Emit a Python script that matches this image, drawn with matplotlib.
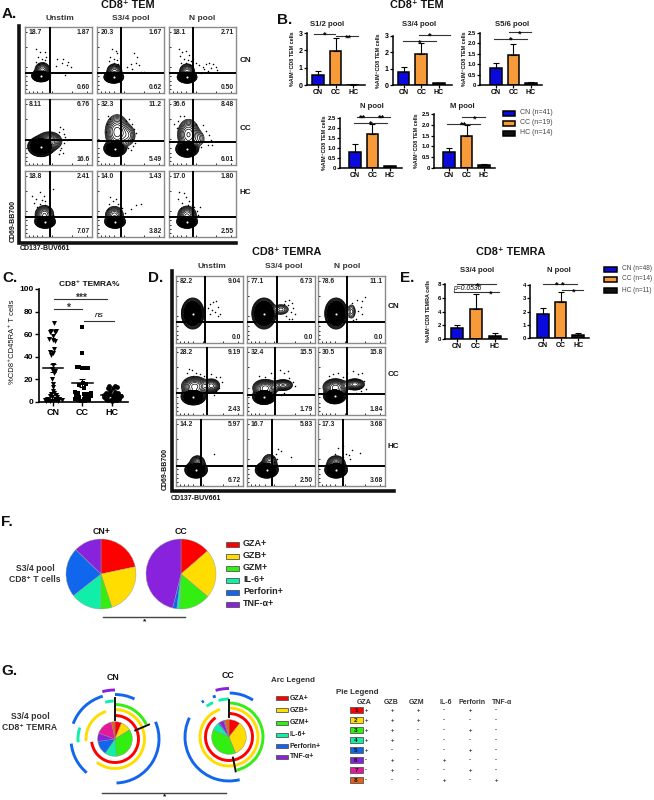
import numpy as np
import matplotlib
matplotlib.use('Agg')
import matplotlib.pyplot as plt
from matplotlib.patches import Arc, Rectangle

plt.rcParams['font.family'] = ['Liberation Sans', 'DejaVu Sans']
plt.rcParams['font.weight'] = 'bold'

W, H = 654, 800
BLUE, ORANGE = '#0A0ADC', '#F79A3A'
RED, YELLOW, GREEN, TEAL, PBLUE, PURPLE = '#FF0000', '#FFDD00', '#33EE11', '#11EEAA', '#1166EE', '#8822DD'
MAGENTA, BROWN = '#E5189A', '#E0601A'

# ---- panel A facs numbers, rows CN CC HC, columns Unstim S3/4 N
A_NUMS = [[('18.7', '1.87', '0.60'), ('20.3', '1.67', '0.62'), ('18.1', '2.71', '0.50')],
          [('8.11', '6.76', '16.6'), ('32.3', '11.2', '5.49'), ('36.6', '8.48', '6.01')],
          [('18.8', '2.41', '7.07'), ('14.0', '1.43', '3.82'), ('17.0', '1.80', '2.55')]]
A_GATES = [[(37, 30), (36, 30), (36, 30)],
           [(37, 38), (36, 36), (36, 35)],
           [(37, 30), (36, 30), (36, 30)]]
# blobs: x, y, sx, sy, height
A_BLOBS = [[[(24, 26, 4.6, 3, 1), (26, 35, 5, 5, .1)],
            [(25, 24, 4.8, 3, 1), (26, 33, 5, 5, .1)],
            [(27, 24, 4.8, 3, 1), (27, 33, 5, 5, .1)]],
           [[(24, 28, 6.5, 5, 1), (36, 36, 8, 6, .14)],
            [(27, 25, 5.5, 4, 1), (30, 50, 7.5, 11, .14), (46, 45, 6, 8, .04)],
            [(27, 24, 5.5, 4, 1), (29, 46, 7, 10, .12), (44, 40, 6, 7, .02)]],
           [[(30, 23, 5, 3.2, 1), (29, 34, 6, 6, .12)],
            [(27, 23, 5, 3.2, 1), (26, 33, 6, 6, .1)],
            [(27, 23, 5, 3.2, 1), (27, 33, 6, 6, .12)]]]
A_DOTS = [[[(17, 67), (22, 62), (30, 62), (20, 55), (25, 52), (30, 50), (16, 47), (27, 45), (21, 44), (32, 54),
            (48, 51), (56, 52), (64, 47), (55, 45), (62, 42), (47, 41), (68, 40), (60, 28)],
           [(22, 67), (28, 64), (30, 60), (20, 55), (25, 52), (30, 50), (18, 48), (26, 46), (32, 44), (22, 42),
            (28, 41), (34, 53), (55, 60), (60, 54), (58, 46), (50, 44), (63, 42), (52, 36), (66, 32), (45, 40), (70, 32)],
           [(15, 66), (20, 62), (25, 64), (30, 58), (17, 56), (22, 52), (28, 50), (33, 48), (18, 46), (25, 45), (31, 42),
            (36, 52), (40, 46), (45, 42), (50, 40), (55, 44), (60, 46), (65, 44), (70, 40), (62, 38), (52, 36), (48, 30),
            (72, 35), (58, 33)]],
          [[(52, 57), (57, 54), (50, 50), (58, 47), (60, 42), (63, 38), (58, 33), (54, 26), (52, 22), (56, 18), (50, 17)],
           [(16, 74), (20, 70), (15, 62), (13, 50), (48, 70), (52, 62), (55, 55), (52, 40), (56, 34), (46, 26),
            (58, 48), (44, 66), (53, 29), (50, 22)],
           [(8, 62), (14, 66), (12, 56), (40, 62), (50, 60), (55, 52), (60, 46), (62, 38), (52, 36), (58, 30),
            (16, 74), (22, 74), (64, 30), (48, 28)]],
          [[(10, 62), (16, 58), (22, 68), (28, 62), (42, 72), (14, 52), (22, 50), (30, 54), (18, 46), (26, 56),
            (34, 46), (30, 48), (38, 40), (42, 34)],
           [(20, 60), (24, 54), (18, 50), (28, 58), (32, 50), (16, 42), (38, 44), (50, 42), (58, 48), (65, 50), (42, 36)],
           [(15, 68), (22, 66), (26, 60), (14, 58), (20, 52), (30, 54), (34, 48), (18, 44), (38, 46), (42, 40), (44, 34),
            (36, 38), (28, 48), (46, 46)]]]

# ---- panel D facs
D_NUMS = [[('82.2', '9.04', '0.0'), ('77.1', '6.73', '0.0'), ('78.6', '11.1', '0.0')],
          [('28.2', '9.19', '2.43'), ('32.4', '15.5', '1.79'), ('30.5', '15.8', '1.84')],
          [('14.2', '5.97', '6.72'), ('16.7', '5.83', '2.50'), ('17.3', '3.68', '3.68')]]
D_GATES = [[(44, 31), (44, 31), (43, 31)],
           [(47, 32), (41, 30), (43, 31)],
           [(37, 30), (37, 30), (37, 30)]]
D_BLOBS = [[[(25, 44, 5.5, 7.5, 1)],
            [(25, 44, 5.8, 7.5, 1), (50, 50, 6, 4, .04)],
            [(27, 44, 5.5, 7.5, 1), (50, 47, 3.5, 6, .03)]],
           [[(26, 27, 6, 4, 1), (28, 42, 8, 6, .18), (53, 43, 5.5, 4.5, .1)],
            [(25, 27, 5.5, 3.8, 1), (27, 40, 7.5, 5, .18), (53, 44, 6, 3.5, .12)],
            [(25, 28, 5.5, 3.8, 1), (26, 41, 7.5, 5, .18), (55, 45, 6, 3.5, .14)]],
           [[(30, 24, 5.5, 4, 1), (32, 34, 5, 5, .1)],
            [(29, 24, 5.5, 4, 1), (33, 34, 5, 6, .09)],
            [(27, 24, 5.5, 4, 1), (27, 34, 6, 5, .1)]]]
D_DOTS = [[[(50, 58), (55, 61), (60, 62), (63, 54), (53, 50), (58, 47), (65, 44), (50, 44), (62, 40), (48, 52)],
           [(56, 62), (62, 64), (66, 60), (60, 56), (68, 52), (64, 46), (70, 44), (58, 40), (66, 36), (62, 36), (54, 58)],
           [(50, 60), (58, 64), (65, 62), (70, 68), (64, 54), (60, 48), (66, 44), (56, 36), (52, 34)]],
          [[(20, 68), (24, 66), (16, 62), (30, 62), (36, 60), (42, 58), (52, 60), (60, 56), (66, 56), (14, 52), (68, 48), (64, 40),
            (60, 36), (56, 30), (26, 58)],
           [(18, 58), (26, 56), (36, 62), (40, 54), (48, 66), (54, 62), (60, 64), (62, 54), (68, 48), (70, 42), (55, 32), (50, 30)],
           [(16, 58), (22, 60), (30, 62), (38, 56), (44, 62), (52, 64), (60, 60), (66, 62), (68, 50), (72, 38), (64, 36), (56, 32)]],
          [[(30, 44), (34, 42), (38, 36), (56, 48)],
           [(38, 44), (42, 48), (46, 55), (44, 40), (50, 52), (64, 44), (40, 36)],
           [(30, 56), (38, 60), (42, 48), (46, 46), (48, 40), (38, 44), (26, 48), (62, 50), (50, 54)]]]

# ---- bar charts, values and tops of the error bars
GROUPS = ['CN', 'CC', 'HC']
S12_VALS, S12_TOPS = [.6, 1.95, .02], [.8, 2.72, .03]
S34_VALS, S34_TOPS = [.8, 1.9, .1], [1.08, 2.6, .15]
S56_VALS, S56_TOPS = [.8, 1.42, .08], [1.08, 1.98, .13]
NP_VALS, NP_TOPS = [.82, 1.72, .08], [1.18, 2.2, .12]
MP_VALS, MP_TOPS = [.72, 1.5, .12], [.92, 1.97, .2]
E34_VALS, E34_TOPS = [1.6, 4.3, .5], [2.0, 6.6, .9]
EN_VALS, EN_TOPS = [1.8, 2.7, .2], [2.3, 3.5, .37]
# sig lines x0, x1, y, text, text x
S12_SIG = [(-.25, .94, 2.96, '*', .35), (1.04, 2.3, 2.8, '**', 1.7)]
S34_SIG = [(-.06, 1.85, 2.67, '*', .9), (.89, 2.64, 3.06, '*', 1.45)]
S56_SIG = [(-.11, 1.8, 2.23, '*', .85), (.75, 2.0, 2.53, '*', 1.35)]
NP_SIG = [(-.06, 1.83, 2.27, '*', .9), (.13, 1.07, 2.55, '**', .45), (1.13, 2.0, 2.55, '**', 1.5)]
MP_SIG = [(-.1, 1.8, 2.05, '**', .8), (.77, 2.04, 2.36, '*', 1.45)]
E34_SIG = [(0, 2.05, 8.0, '*', 1.1), (-.17, 2.2, 6.8, '*', 1.75)]
EN_SIG = [(0, 1.93, 4.07, '* *', .95), (1.07, 2.27, 3.62, '*', 1.75)]

# ---- panel C
CN_VALS = [70, 63, 63, 62, 62, 58, 56, 55, 54, 47, 44, 43, 42, 33, 29, 27, 26, 20, 16, 13, 10, 8, 7, 6, 5, 4, 4, 3, 3, 3, 2, 2, 2, 2, 1, 1, 1, 1]
CN_X = [.03, -.05, .1, -.08, .07, .02, -.12, 0, .08, .05, -.1, 0, -.05, 0, -.04, .06, .03, -.03, 0, 0, .02, .05, -.05, .1, -.1, .15, -.02, -.2, .06, .22, -.15, .1, -.28, .3, -.08, .18, .02, -.22]
CC_VALS = [66, 43, 31, 31, 30, 30, 30, 30, 17, 16, 15, 12, 9, 8, 8, 7, 7, 6, 5, 5, 4, 4, 3, 3, 2, 2, 1, 1]
CC_X = [0, 0, -.18, -.1, -.02, .06, .14, .2, .02, .12, -.1, .05, -.25, .3, -.15, .2, .05, -.22, .28, .1, -.1, .16, -.25, .04, .22, -.15, .1, -.04]
HC_VALS = [14, 14, 13, 12, 12, 10, 9, 8, 8, 7, 7, 6, 6, 5, 5, 5, 4, 4, 3, 3, 3, 2, 2, 1]
HC_X = [-.08, .1, .16, -.12, .05, -.05, .1, -.18, .2, -.1, .12, -.25, .03, -.15, .18, .3, -.28, .08, -.2, 0, .24, -.12, .14, .02]
C_MEANS = [30, 17, 6]
C_SEMS = [3.5, 3.5, 1]

# ---- panel F pies
F_NAMES = ['GZA+', 'GZB+', 'GZM+', 'IL-6+', 'Perforin+', 'TNF-α+']
F_COLORS = [RED, YELLOW, GREEN, TEAL, PBLUE, PURPLE]
F_CN = [21.7, 23.3, 5.3, 14.2, 22.8, 12.8]
F_CC = [13.6, 22.5, 14.4, 1.4, 1.9, 46.1]

# ---- panel G pies + arcs (degrees clockwise from 12 o'clock, radius in px)
G_COLORS = [RED, YELLOW, GREEN, TEAL, PBLUE, PURPLE, MAGENTA, BROWN]
G_CN = [22, 36, 117, 40, 47, 28, 58, 12]
G_CC = [38, 120, 137, 27, 4, 16, 4, 14]
G_CN_ARCS = [(RED, 23.5, 0, 263), (YELLOW, 29.5, 0, 218), (YELLOW, 29, 266, 342), (GREEN, 34.5, 0, 65),
             (TEAL, 38, 345, 358), (TEAL, 37, 265, 288), (PBLUE, 44.5, 0, 26), (PBLUE, 44.5, 290, 344),
             (PBLUE, 44, 220, 264), (PBLUE, 44, 67, 178), (PURPLE, 49, 345, 360)]
G_CC_ARCS = [(RED, 23.5, 0, 325), (YELLOW, 29, 0, 342), (GREEN, 34, 0, 167),
             (TEAL, 38, 324, 335), (TEAL, 38, 344, 360), (PBLUE, 44, 1, 33), (PBLUE, 44, 166, 296),
             (PBLUE, 44, 322, 325), (PBLUE, 43, 338, 342), (PURPLE, 48.5, 344, 360)]
# black spokes: angle, r0, r1
G_CN_SPOKES = [(0, 19, 41), (67, 22, 37)]
G_CC_SPOKES = [(0, 20, 37), (169, 21, 35)]

PIE_ROWS = ['1', '2', '3', '4', '5', '6', '7', '8']
PIE_HEAD = ['GZA', 'GZB', 'GZM', 'IL-6', 'Perforin', 'TNF-α']
PIE_SIGNS = ['+++-+-', '+++---', '++--+-', '++----', '+---+-', '-+-+--', '-+--+-', '---+-+']

fig = plt.figure(figsize=(W / 100, H / 100), dpi=100, facecolor='white')


def px_axes(left, top, right, bottom, **kw):
    return fig.add_axes([left / W, 1 - bottom / H, (right - left) / W, (bottom - top) / H], **kw)


# overlay in pixel coords for the text and the layout lines
ov = fig.add_axes([0, 0, 1, 1], zorder=50)
ov.set_xlim(0, W)
ov.set_ylim(H, 0)
ov.axis('off')
ov.patch.set_alpha(0)


def txt(x, y, s, size=7, ha='center', va='center', **kw):
    kw.setdefault('color', '#111111')
    ov.text(x, y, s, fontsize=size, ha=ha, va=va, **kw)


grid_x = np.linspace(0, 100, 300)
grid_y = np.linspace(0, 100, 300)
gx, gy = np.meshgrid(grid_x, grid_y)
LEVELS = np.geomspace(.008, .9, 17)
FACS_TICKS = [6, 12, 18, 26, 40, 70, 92]


def facs(box, nums, gate, blobs, dots):
    ax = px_axes(*box)
    z = np.zeros_like(gx)
    for cx, cy, sx, sy, a in blobs:
        z += a * np.exp(-(gx - cx) ** 2 / (2 * sx ** 2) - (gy - cy) ** 2 / (2 * sy ** 2))
    # the dense core of the main blob is solid black
    main = blobs[0]
    core = np.exp(-(gx - main[0]) ** 2 / (2 * main[2] ** 2) - (gy - main[1]) ** 2 / (2 * main[3] ** 2))
    ax.contourf(gx, gy, core, levels=[.06, 2], colors='black')
    ax.contour(gx, gy, z, levels=LEVELS, colors='black', linewidths=.5)
    ax.plot([main[0]], [main[1]], marker='o', ms=1.5, color='white', mec='none', zorder=4)
    ax.scatter([d[0] for d in dots], [d[1] for d in dots], s=1.2, c='black', linewidths=0)
    ax.axvline(gate[0], color='black', lw=1.4, zorder=5)
    ax.axhline(gate[1], color='black', lw=1.4, zorder=5)
    ax.set_xlim(0, 100)
    ax.set_ylim(0, 100)
    ax.set_xticks(FACS_TICKS)
    ax.set_yticks(FACS_TICKS)
    ax.tick_params(length=1.6, width=.6, labelleft=False, labelbottom=False, pad=0, direction='in')
    for s in ax.spines.values():
        s.set_color('#8a8a8a')
        s.set_linewidth(1)
    ax.text(5, 92, nums[0], fontsize=4.9, va='center', color='#222222', zorder=6)
    ax.text(97, 92, nums[1], fontsize=4.9, ha='right', va='center', color='#222222', zorder=6)
    ax.text(97, 8, nums[2], fontsize=4.9, ha='right', va='center', color='#222222', zorder=6)


A_XS = [(25, 92), (97, 164), (169, 236)]
A_YS = [(27, 93), (99, 165), (171, 237)]
D_XS = [(176, 243), (247, 315), (318, 385)]
D_YS = [(276, 343), (347, 415), (419, 486)]
for r in range(3):
    for c in range(3):
        facs((A_XS[c][0], A_YS[r][0], A_XS[c][1], A_YS[r][1]), A_NUMS[r][c], A_GATES[r][c], A_BLOBS[r][c], A_DOTS[r][c])
        facs((D_XS[c][0], D_YS[r][0], D_XS[c][1], D_YS[r][1]), D_NUMS[r][c], D_GATES[r][c], D_BLOBS[r][c], D_DOTS[r][c])

# big L axes of the facs grids
ov.plot([19, 19, 236], [26, 243, 243], color='#111111', lw=2.6, solid_joinstyle='miter')
ov.plot([172, 172, 394], [271, 491, 491], color='#111111', lw=2.6, solid_joinstyle='miter')

txt(2, 14, 'A.', 11, ha='left')
txt(128, 5, 'CD8⁺ TEM', 7.8)
txt(417, 5, 'CD8⁺ TEM', 7.8)
for x, s in zip([60, 131, 202], ['Unstim', 'S3/4 pool', 'N pool']):
    txt(x, 18, s, 6, color='#333333')
for y, s in zip([61, 128, 193], GROUPS):
    txt(240, y, s, 5.8, ha='left')
txt(13, 221, 'CD69-BB700', 5, rotation=90)
txt(20, 249, 'CD137-BUV661', 5, ha='left')

txt(148, 278, 'D.', 11, ha='left')
txt(287, 252, 'CD8⁺ TEMRA', 7.8)
txt(511, 252, 'CD8⁺ TEMRA', 7.8)
for x, s in zip([212, 284, 347], ['Unstim', 'S3/4 pool', 'N pool']):
    txt(x, 267, s, 6, color='#333333')
for y, s in zip([307, 375, 447], GROUPS):
    txt(388, y, s, 5.8, ha='left')
txt(165, 469, 'CD69-BB700', 5, rotation=90)
txt(171, 498, 'CD137-BUV661', 5, ha='left')


def bars(left, top, right, bottom, xlim, ymax, yticks, ylabs, vals, tops, sig, title, tx, ty, ylabel, ylx, ysize=4.3):
    ax = px_axes(left, top, right, bottom)
    ax.patch.set_alpha(0)
    ax.bar(range(3), vals, width=.66, color=[BLUE, ORANGE, '#111111'], edgecolor='black', linewidth=1.1)
    for i in range(3):
        ax.errorbar(i, vals[i], yerr=[[0], [tops[i] - vals[i]]], color='black', capsize=2, lw=.8, capthick=.8)
    ax.set_xlim(*xlim)
    ax.set_ylim(0, ymax)
    ax.set_xticks(range(3))
    ax.set_xticklabels(GROUPS, fontsize=5)
    ax.set_yticks(yticks)
    ax.set_yticklabels(ylabs, fontsize=ysize)
    ax.tick_params(length=2.2, width=.9, pad=.8)
    ax.spines['top'].set_visible(False)
    ax.spines['right'].set_visible(False)
    ax.spines['left'].set_linewidth(1.1)
    ax.spines['bottom'].set_linewidth(1.1)
    for x0, x1, y, s, sx in sig:
        ax.plot([x0, x1], [y, y], color='#333333', lw=.8, clip_on=False)
        ax.text(sx, y - ymax * .03, s, fontsize=6.5, ha='center', va='center', clip_on=False)
    txt(tx, ty, title, 5.6, color='#222222')
    txt(ylx, (top + bottom) / 2, ylabel, 3.9, rotation=90)
    return ax


TEM_Y = '%AIM⁺CD8 TEM cells'
TEMRA_Y = '%AIM⁺CD8 TEMRA cells'
L3 = ['0', '1', '2', '3']
L25 = ['0', '0.5', '1.0', '1.5', '2.0', '2.5']
T25 = [0, .5, 1, 1.5, 2, 2.5]
bars(307, 33, 365, 85, (-.63, 2.67), 3, [0, 1, 2, 3], L3, S12_VALS, S12_TOPS, S12_SIG, 'S1/2 pool', 327, 24, TEM_Y, 292, 5)
bars(393, 36, 452, 85, (-.6, 2.74), 3, [0, 1, 2, 3], L3, S34_VALS, S34_TOPS, S34_SIG, 'S3/4 pool', 419, 24, TEM_Y, 379, 5)
bars(480, 33, 542, 85, (-.91, 2.63), 2.5, T25, L25, S56_VALS, S56_TOPS, S56_SIG, 'S5/6 pool', 512, 24, TEM_Y, 464)
bars(340, 118, 402, 168, (-.85, 2.69), 2.5, T25, L25, NP_VALS, NP_TOPS, NP_SIG, 'N pool', 372, 107, TEM_Y, 324)
bars(434, 114, 495, 168, (-.86, 2.63), 2.5, T25, L25, MP_VALS, MP_TOPS, MP_SIG, 'M pool', 462, 107, TEM_Y, 416)
ax34 = bars(445, 284, 507, 339, (-.63, 2.63), 8, [0, 2, 4, 6, 8], ['0', '2', '4', '6', '8'], E34_VALS, E34_TOPS, E34_SIG, 'S3/4 pool', 477, 270, TEMRA_Y, 428)
ax34.text(.52, 7.3, 'p=0.0536', fontsize=4.9, style='italic', fontweight='normal', ha='center', va='center', clip_on=False)
bars(530, 285, 589, 338, (-.72, 2.6), 4, [0, 1, 2, 3, 4], ['0', '1', '2', '3', '4'], EN_VALS, EN_TOPS, EN_SIG, 'N pool', 559, 271, '', 520)

txt(277, 20, 'B.', 11, ha='left')
txt(400, 278, 'E.', 11, ha='left')


def bar_key(x0, x1, ys, names, tx, size):
    for y, s, col in zip(ys, names, [BLUE, ORANGE, '#111111']):
        ov.add_patch(Rectangle((x0, y - 2.5), x1 - x0, 5, facecolor=col, edgecolor='black', lw=1.1))
        txt(tx, y, s, size, ha='left', color='#444444', fontweight='normal')


bar_key(503, 515, [113, 123, 133], ['CN (n=41)', 'CC (n=19)', 'HC (n=14)'], 520, 5)
bar_key(604, 617, [269, 279, 290], ['CN (n=48)', 'CC (n=14)', 'HC (n=11)'], 622, 4.7)

# ---- panel C
axc = px_axes(39, 289, 128, 402)
axc.patch.set_alpha(0)
axc.scatter(CN_X, CN_VALS, marker='v', s=13, c='black', linewidths=0, clip_on=False)
axc.scatter(1 + np.array(CC_X), CC_VALS, marker='s', s=11, c='black', linewidths=0, clip_on=False)
axc.scatter(2 + np.array(HC_X), HC_VALS, marker='o', s=12, c='black', linewidths=0, clip_on=False)
for i in range(3):
    axc.plot([i - .35, i + .35], [C_MEANS[i]] * 2, color='black', lw=1.1)
    axc.errorbar(i, C_MEANS[i], yerr=C_SEMS[i], color='black', capsize=2.5, lw=.8, capthick=.8)
axc.set_xlim(-.47, 2.55)
axc.set_ylim(0, 100)
axc.set_xticks(range(3))
axc.set_xticklabels(GROUPS, fontsize=6.5)
axc.set_yticks([0, 20, 40, 60, 80, 100])
axc.set_yticklabels(['0', '20', '40', '60', '80', '100'], fontsize=6)
axc.tick_params(length=3, width=1, pad=1)
axc.spines['top'].set_visible(False)
axc.spines['right'].set_visible(False)
axc.spines['left'].set_linewidth(1.2)
axc.spines['bottom'].set_linewidth(1.2)
for x0, x1, y, s in [(.03, 1.85, 91.4, '***'), (.03, 1, 82.6, '*')]:
    axc.plot([x0, x1], [y, y], color='#333333', lw=.8, clip_on=False)
    axc.text((x0 + x1) / 2, y + 1, s, fontsize=7.5, ha='center', va='center', color='#333333')
axc.plot([1.06, 2.06], [71.7, 71.7], color='#333333', lw=.8)
axc.text(1.56, 76.5, 'ns', fontsize=6, style='italic', fontweight='normal', ha='center', va='center')
txt(2, 278, 'C.', 11, ha='left')
txt(89, 284, 'CD8⁺ TEMRA%', 6)
txt(13, 342, '%CD8⁺CD45RA⁺ T cells', 5.5, rotation=90, fontweight='normal')

# ---- panel F
for cx, vals in [(101, F_CN), (181, F_CC)]:
    axp = px_axes(cx - 37, 574 - 37, cx + 37, 574 + 37)
    axp.pie(vals, colors=F_COLORS, startangle=90, counterclock=False, radius=35 / 37,
            wedgeprops={'edgecolor': '#999999', 'linewidth': .3})
    axp.set_xlim(-1, 1)
    axp.set_ylim(-1, 1)
txt(1, 522, 'F.', 11, ha='left')
txt(102, 531, 'CN+', 6.3)
txt(181, 531, 'CC', 6.3)
txt(35, 574, 'S3/4 pool\nCD8⁺ T cells', 6.2, linespacing=1.25, color='#333333')
ov.plot([103, 185], [617, 617], color='#444444', lw=1)
txt(145, 622, '*', 6)
for y, s, col in zip([544, 556, 568, 580, 592, 604], F_NAMES, F_COLORS):
    ov.add_patch(Rectangle((226, y - 2.5), 13, 5, facecolor=col, edgecolor='#555555', lw=.6))
    txt(243, y, s, 6.5, ha='left', color='#222222')

# ---- panel G


def rings(cx, cy, vals, arcs, spokes):
    axg = px_axes(cx - 56, cy - 56, cx + 56, cy + 56)
    axg.pie(vals, colors=G_COLORS, startangle=90, counterclock=False, radius=17.3,
            wedgeprops={'edgecolor': '#888888', 'linewidth': .3})
    for col, r, a0, a1 in arcs:
        axg.add_patch(Arc((0, 0), 2 * r, 2 * r, theta1=90 - a1, theta2=90 - a0, color=col, lw=2.1))
    for ang, r0, r1 in spokes:
        t = np.deg2rad(ang)
        axg.plot([r0 * np.sin(t), r1 * np.sin(t)], [r0 * np.cos(t), r1 * np.cos(t)], color='#111111', lw=1.4)
    axg.set_xlim(-56, 56)
    axg.set_ylim(-56, 56)
    axg.set_aspect('equal')
    axg.axis('off')


rings(115, 739, G_CN, G_CN_ARCS, G_CN_SPOKES)
rings(229, 737, G_CC, G_CC_ARCS, G_CC_SPOKES)
txt(1, 671, 'G.', 11, ha='left')
txt(113, 677, 'CN', 6.3)
txt(228, 675, 'CC', 6.3)
txt(30, 722, 'S3/4 pool\nCD8⁺ TEMRA', 6.2, linespacing=1.25, color='#333333')
ov.plot([102, 226], [793, 793], color='#444444', lw=1)
txt(165, 797, '*', 6)
txt(293, 681, 'Arc Legend', 5.8, color='#333333')
for y, s, col in zip([698, 710, 723, 735, 746, 757], F_NAMES, F_COLORS):
    ov.add_patch(Rectangle((275.5, y - 2), 12, 4, facecolor=col, edgecolor='#555555', lw=.6))
    txt(290, y, s, 5, ha='left', color='#222222')

txt(336, 692, 'Pie Legend', 5.8, ha='left', color='#333333')
HEAD_X = [364, 391, 417, 446, 472, 502]
SIGN_X = [366, 392, 418, 444, 470, 496]
for x, s in zip(HEAD_X, PIE_HEAD):
    txt(x, 702, s, 5, color='#333333')
for i, (num, col, signs) in enumerate(zip(PIE_ROWS, G_COLORS, PIE_SIGNS)):
    y = 710 + 10 * i
    ov.add_patch(Rectangle((349.5, y - 2.7), 13, 5.4, facecolor=col, edgecolor='#555555', lw=.6))
    txt(356, y, num, 4.6, color='#111111')
    for x, s in zip(SIGN_X, signs):
        txt(x, y, s, 4.3, color='#333333')

fig.savefig('out.png', dpi=100, facecolor='white')
